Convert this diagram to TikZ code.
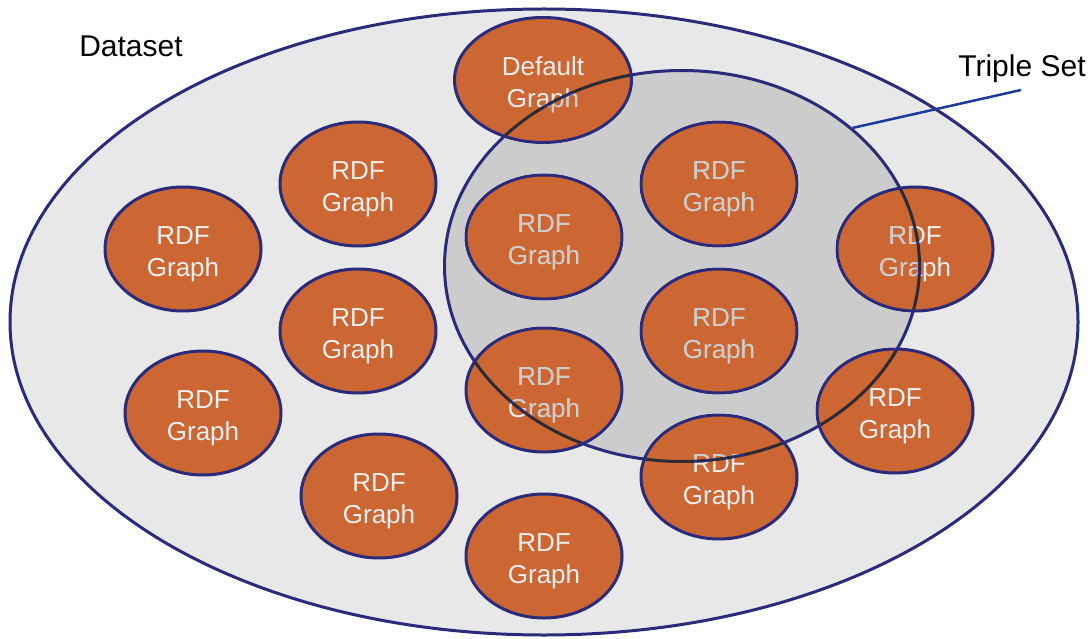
\documentclass[tikz,border=0pt]{standalone}
\usepackage{fontspec}
\setmainfont{Liberation Sans}
\usetikzlibrary{shapes.geometric}

\definecolor{rdfOrange}{HTML}{CC6633}
\definecolor{rimBlue}{HTML}{2A2B7A}
\definecolor{setGray}{HTML}{E8E8E8}
\definecolor{tripleGray}{HTML}{CCCCCC}
\definecolor{pointerBlue}{HTML}{1A3A9E}

\newcommand{\toppad}{\rule{0pt}{29pt}}

\tikzstyle{rdfgraph}=[ellipse,inner sep=0pt,minimum width=156pt,minimum height=124pt,draw=rimBlue,line width=3pt,fill=rdfOrange,text=white!94!black,align=center,font=\fontsize{26}{32}\selectfont]
\tikzstyle{setlabel}=[anchor=base,font=\fontsize{30}{36}\selectfont]
\tikzstyle{setStyle}=[ellipse,inner sep=0pt,draw=rimBlue,line width=3pt]

\begin{document}
\begin{tikzpicture}[x=1pt, y=-1pt]

	\useasboundingbox (0,0) rectangle (1092,639);

	% Dataset
	\node(dataset) at (544,322) [setStyle, fill=setGray, minimum width=1068pt, minimum height=626pt] {};

	% Graphen
	\node(default) at (543,80) [rdfgraph, minimum width=177pt, minimum height=125pt] {\toppad Default\\Graph};
	\node(g1) at (358,184) [rdfgraph] {\toppad RDF\\Graph};
	\node(g2) at (183,249) [rdfgraph] {\toppad RDF\\Graph};
	\node(g3) at (544,237) [rdfgraph] {\toppad RDF\\Graph};
	\node(g4) at (719,184) [rdfgraph] {\toppad RDF\\Graph};
	\node(g5) at (915,249) [rdfgraph] {\toppad RDF\\Graph};
	\node(g6) at (358,331) [rdfgraph] {\toppad RDF\\Graph};
	\node(g7) at (719,331) [rdfgraph] {\toppad RDF\\Graph};
	\node(g8) at (203,413) [rdfgraph] {\toppad RDF\\Graph};
	\node(g9) at (544,390) [rdfgraph] {\toppad RDF\\Graph};
	\node(g10) at (895,411) [rdfgraph] {\toppad RDF\\Graph};
	\node(g11) at (379,496) [rdfgraph] {\toppad RDF\\Graph};
	\node(g12) at (719,477) [rdfgraph] {\toppad RDF\\Graph};
	\node(g13) at (544,556) [rdfgraph] {\toppad RDF\\Graph};

	% Triple Set
	\begin{scope}[blend mode=darken]
		\node(tripleset) at (682,266) [setStyle, fill=tripleGray, minimum width=475pt, minimum height=391pt] {};
	\end{scope}

	% Beschriftung
	\node(datasetLabel) at (131,57) [setlabel] {Dataset};
	\node(tripleLabel) at (1022,77) [setlabel] {Triple Set};
	\coordinate(pointer) at (1021,90);
	\draw[pointerBlue, line width=2.5pt] (tripleset.39) -- (pointer);

\end{tikzpicture}
\end{document}
